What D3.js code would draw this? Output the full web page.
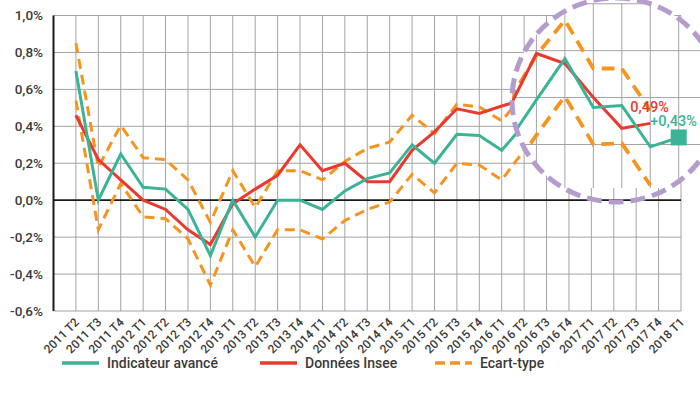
<!DOCTYPE html>
<html>
<head>
  <meta charset="utf-8">
  <title>Indicateur avancé</title>
  <script src="https://d3js.org/d3.v7.min.js"></script>
  <style>
    body { margin: 0; background: #fff; }
    text { font-family: Roboto, "DejaVu Sans", sans-serif; font-weight: 500; fill: #3a3a3a; }
  </style>
</head>
<body>
  <svg id="chart" width="700" height="400"></svg>

  <script>
    // quarters shown on the x axis
    const categories = ["2011 T2","2011 T3","2011 T4","2012 T1","2012 T2","2012 T3","2012 T4",
      "2013 T1","2013 T2","2013 T3","2013 T4","2014 T1","2014 T2","2014 T3","2014 T4",
      "2015 T1","2015 T2","2015 T3","2015 T4","2016 T1","2016 T2","2016 T3","2016 T4",
      "2017 T1","2017 T2","2017 T3","2017 T4","2018 T1"];

    // values in %
    const indicateur = [0.70, 0.00, 0.25, 0.07, 0.06, -0.05, -0.30, 0.00, -0.20, 0.00, 0.00, -0.05,
      0.05, 0.117, 0.148, 0.30, 0.20, 0.357, 0.35, 0.27, 0.41, 0.59, 0.766, 0.558, 0.566, 0.39, 0.43, null];
    const insee = [0.46, 0.22, 0.11, 0.00, -0.05, -0.16, -0.24, -0.02, 0.06, 0.135, 0.30, 0.16,
      0.20, 0.10, 0.10, 0.27, 0.37, 0.495, 0.47, 0.51, 0.545, 0.788, 0.745, 0.60, 0.469, 0.49, null, null];
    const ecartHaut = [0.85, 0.18, 0.405, 0.23, 0.22, 0.11, -0.12, 0.16, -0.04, 0.16, 0.16, 0.11,
      0.21, 0.28, 0.315, 0.46, 0.36, 0.52, 0.505, 0.43, 0.575, 0.78, 0.93, 0.724, 0.724, 0.545, null, null];
    const ecartBas = [0.54, -0.16, 0.09, -0.09, -0.10, -0.21, -0.46, -0.16, -0.36, -0.16, -0.16, -0.21,
      -0.11, -0.05, -0.01, 0.14, 0.04, 0.20, 0.19, 0.11, 0.27, 0.44, 0.605, 0.40, 0.405, 0.226, null, null];

    const yTicks = [-0.6, -0.4, -0.2, 0, 0.2, 0.4, 0.6, 0.8, 1.0];

    const teal = "#3bb397", red = "#ea3a2f", orange = "#f7941d", purple = "#b49ccc";

    const svg = d3.select("#chart");
    svg.append("rect").attr("width", 700).attr("height", 400).attr("fill", "#fff");

    // plot area: one empty slot left of the first quarter
    const x = d3.scaleLinear().domain([-1, categories.length - 1]).range([53.5, 681]);
    const y = d3.scaleLinear().domain([-0.6, 1.0]).range([311, 15.5]);

    const fmt = v => d3.format(".1f")(v).replace(".", ",").replace("−", "-") + "%";

    // grid + series, reused for the magnifier
    function drawPlot(g) {
      const idx = d3.range(-1, categories.length);
      g.selectAll(".vgrid").data(idx).enter().append("line")
        .attr("x1", d => x(d)).attr("x2", d => x(d))
        .attr("y1", y(1.0)).attr("y2", y(-0.6))
        .attr("stroke", "#a3a3a3").attr("stroke-width", 1)
        .attr("vector-effect", "non-scaling-stroke");
      g.selectAll(".hgrid").data(yTicks).enter().append("line")
        .attr("x1", x(-1)).attr("x2", x(categories.length - 1))
        .attr("y1", d => y(d)).attr("y2", d => y(d))
        .attr("stroke", d => d === 0 ? "#1a1a1a" : "#a3a3a3")
        .attr("stroke-width", d => d === 0 ? 1.8 : 1)
        .attr("vector-effect", "non-scaling-stroke");

      const line = d3.line()
        .defined(d => d != null)
        .x((d, i) => x(i))
        .y(d => y(d));

      [ecartHaut, ecartBas].forEach(s => {
        g.append("path").attr("d", line(s))
          .attr("fill", "none").attr("stroke", orange).attr("stroke-width", 3)
          .attr("stroke-dasharray", "10,6");
      });
      g.append("path").attr("d", line(insee))
        .attr("fill", "none").attr("stroke", red).attr("stroke-width", 3)
        .attr("vector-effect", "non-scaling-stroke");
      g.append("path").attr("d", line(indicateur))
        .attr("fill", "none").attr("stroke", teal).attr("stroke-width", 3)
        .attr("vector-effect", "non-scaling-stroke");
    }

    drawPlot(svg.append("g"));

    // left axis
    svg.append("line")
      .attr("x1", x(-1)).attr("x2", x(-1)).attr("y1", y(1.0)).attr("y2", y(-0.6))
      .attr("stroke", "#1a1a1a").attr("stroke-width", 2);

    svg.selectAll(".ylab").data(yTicks).enter().append("text")
      .attr("x", 43).attr("y", d => y(d)).attr("dy", "0.35em")
      .attr("text-anchor", "end").style("font-size", "13.5px")
      .text(fmt);

    svg.selectAll(".xlab").data(categories).enter().append("text")
      .attr("text-anchor", "end").style("font-size", "12px")
      .attr("transform", (d, i) => `translate(${x(i) + 4},${323}) rotate(-45)`)
      .text(d => d);

    // magnifier over the last quarters
    const lens = { cx: 616, cy: 100, rx: 104, ry: 102 };
    const zc = { x: 584, y: 59, s: 1.27 };
    const mag = (px, py) => [zc.x + zc.s * (px - zc.x), zc.y + zc.s * (py - zc.y)];

    const defs = svg.append("defs");
    defs.append("clipPath").attr("id", "lensClip").append("ellipse")
      .attr("cx", lens.cx).attr("cy", lens.cy).attr("rx", lens.rx).attr("ry", lens.ry);
    defs.append("clipPath").attr("id", "lensCut").append("rect")
      .attr("x", 0).attr("y", 0).attr("width", 700).attr("height", 188);

    const lensG = svg.append("g").attr("clip-path", "url(#lensClip)")
      .append("g").attr("clip-path", "url(#lensCut)");
    lensG.append("rect").attr("width", 700).attr("height", 400).attr("fill", "#fff");
    drawPlot(lensG.append("g")
      .attr("transform", `translate(${zc.x * (1 - zc.s)},${zc.y * (1 - zc.s)}) scale(${zc.s})`));

    // last point of the advanced indicator
    const last = mag(x(26), y(indicateur[26]));
    svg.append("rect")
      .attr("x", last[0] - 8).attr("y", last[1] - 8).attr("width", 16).attr("height", 16)
      .attr("fill", teal);

    const redEnd = mag(x(25), y(insee[25]));
    svg.append("text").attr("x", redEnd[0] - 20).attr("y", redEnd[1] - 11)
      .style("font-size", "14.5px").style("fill", red).text("0,49%");
    svg.append("text").attr("x", redEnd[0]).attr("y", redEnd[1] + 3)
      .style("font-size", "14.5px").style("fill", teal).text("+0,43%");

    svg.append("ellipse")
      .attr("cx", lens.cx).attr("cy", lens.cy).attr("rx", lens.rx).attr("ry", lens.ry)
      .attr("fill", "none").attr("stroke", purple).attr("stroke-width", 5)
      .attr("stroke-dasharray", "15,7");

    // legend
    const legend = [
      { label: "Indicateur avancé", color: teal, x: 62, dash: null },
      { label: "Données Insee", color: red, x: 260, dash: null },
      { label: "Ecart-type", color: orange, x: 435, dash: "10,5" }
    ];
    const lg = svg.selectAll(".legend").data(legend).enter().append("g")
      .attr("transform", d => `translate(${d.x},363)`);
    lg.append("line").attr("x1", 0).attr("x2", 37)
      .attr("stroke", d => d.color).attr("stroke-width", 3.5)
      .attr("stroke-dasharray", d => d.dash);
    lg.append("text").attr("x", 45).attr("dy", "0.35em")
      .style("font-size", "14px").text(d => d.label);
  </script>
</body>
</html>
